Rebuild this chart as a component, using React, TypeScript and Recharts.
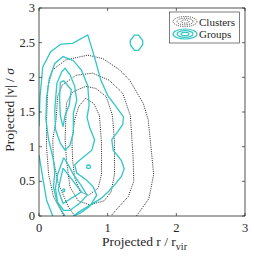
import React from 'react';
import { ComposedChart, Line, XAxis, YAxis, Customized } from 'recharts';

// ---------- data ----------
const xTicks = [0, 1, 2, 3];
const yTicks = [0, 0.5, 1, 1.5, 2, 2.5, 3];
const xLabelMain = 'Projected r / r';
const xLabelSub = 'vir';
const yLabelMain = 'Projected |v| / ';
const yLabelSym = 'σ';
const legendNames = ['Clusters', 'Groups'];

// Groups (cyan, solid) contour paths  [x, y]
const groupsL1a = [[0,1.29],[0.015,1.72],[0.055,2.15],[0.17,2.37],[0.32,2.48],[0.49,2.49],[0.71,2.61],[0.76,2.45],[0.82,2.25],[0.9,1.96],[1.0,1.74],[1.12,1.58],[1.23,1.43],[1.22,1.32],[1.15,1.22],[1.06,1.1],[1.08,0.95],[1.2,0.8],[1.24,0.68],[1.2,0.57],[1.12,0.47],[1.02,0.36],[0.9,0.25],[0.75,0.16],[0.6,0.07],[0.5,0]];
const groupsL1b = [[0,0.88],[0.03,0.7],[0.06,0.52],[0.11,0.23],[0.2,0]];
const groupsL1c = [[1.33,2.47],[1.33,2.53],[1.39,2.61],[1.45,2.61],[1.51,2.53],[1.51,2.47],[1.45,2.39],[1.39,2.39],[1.33,2.47]];
const groupsL2 = [[0.38,0],[0.35,0.04],[0.26,0.21],[0.21,0.42],[0.23,0.62],[0.21,0.81],[0.14,1.1],[0.1,1.4],[0.11,1.7],[0.15,1.98],[0.23,2.2],[0.35,2.3],[0.5,2.24],[0.62,2.1],[0.71,1.88],[0.73,1.6],[0.7,1.42],[0.74,1.27],[0.81,1.1],[0.77,0.95],[0.6,0.81],[0.52,0.74],[0.55,0.62],[0.69,0.52],[0.79,0.42],[0.84,0.3],[0.74,0.14],[0.6,0.04],[0.5,0]];
const groupsL3a = [[0.23,1.53],[0.26,1.91],[0.33,2.08],[0.38,2.13],[0.45,2.04],[0.52,1.87],[0.55,1.67],[0.5,1.48],[0.5,1.2],[0.45,1.02],[0.38,0.95],[0.31,1.05],[0.24,1.25],[0.23,1.53]];
const groupsL3b = [[0.36,0.84],[0.27,0.6],[0.24,0.4],[0.27,0.2],[0.36,0.08],[0.45,0.08],[0.6,0.19],[0.7,0.3],[0.62,0.43],[0.5,0.6],[0.42,0.75],[0.36,0.84]];
const groupsL3c = [[0.69,0.71],[0.7,0.73],[0.72,0.735],[0.74,0.73],[0.75,0.71],[0.74,0.69],[0.72,0.685],[0.7,0.69],[0.69,0.71]];
const groupsL4a = [[0.31,1.93],[0.36,1.95],[0.47,1.82],[0.44,1.6],[0.38,1.45],[0.35,1.29],[0.31,1.45],[0.3,1.7],[0.31,1.93]];
const groupsL4b = [[0.35,0.69],[0.28,0.38],[0.35,0.18],[0.62,0.35],[0.35,0.69]];
const groupsL4c = [[0.345,0.37],[0.35,0.385],[0.36,0.39],[0.37,0.385],[0.375,0.37],[0.37,0.355],[0.36,0.35],[0.35,0.355],[0.345,0.37]];

// Clusters (black, dotted) contour paths  [x, y]
const clustersL1 = [[0.36,0],[0.21,0.28],[0.14,0.6],[0.11,1.0],[0.11,1.39],[0.13,1.87],[0.2,2.11],[0.39,2.25],[0.71,2.32],[0.93,2.27],[1.17,2.11],[1.32,1.96],[1.52,1.62],[1.59,1.39],[1.63,1.0],[1.67,0.6],[1.6,0.25],[1.42,0]];
const clustersL2 = [[0.52,0],[0.43,0.13],[0.28,0.47],[0.21,0.81],[0.2,1.1],[0.25,1.39],[0.27,1.72],[0.34,1.89],[0.54,2.03],[0.78,2.06],[1.02,1.96],[1.22,1.77],[1.33,1.45],[1.37,0.86],[1.38,0.5],[1.3,0.28],[1.08,0.04],[1.05,0]];
const clustersL3 = [[0.38,1.1],[0.39,1.39],[0.4,1.63],[0.49,1.79],[0.68,1.87],[0.83,1.84],[0.98,1.72],[1.07,1.45],[1.1,1.05],[1.1,0.6],[1.05,0.35],[0.95,0.22],[0.74,0.16],[0.57,0.22],[0.45,0.42],[0.4,0.81],[0.38,1.1]];
const clustersL4 = [[0.48,1.1],[0.52,1.39],[0.58,1.58],[0.68,1.7],[0.8,1.62],[0.88,1.45],[0.91,1.05],[0.91,0.6],[0.86,0.4],[0.72,0.3],[0.6,0.35],[0.52,0.55],[0.49,0.8],[0.48,1.1]];

// ---------- styling ----------
const CYAN = '#33C6C6';
const DOT = '#222';
const INK = '#262626';
const FONT = '"Liberation Serif", "Times New Roman", serif';

const toPts = (arr: number[][]) => arr.map(([x, y]) => ({ x, y }));

const groupPaths = [groupsL1a, groupsL1b, groupsL1c, groupsL2, groupsL3a, groupsL3b, groupsL3c, groupsL4a, groupsL4b, groupsL4c];
const clusterPaths = [clustersL1, clustersL2, clustersL3, clustersL4];

const BottomTick = (props: any) => {
  const { x, y, payload } = props;
  return (
    <g>
      <line x1={x} y1={y} x2={x} y2={y - 3} stroke={INK} strokeWidth={0.7} />
      <text x={x} y={y + 16} textAnchor="middle" fontFamily={FONT} fontSize={12.5} fill={INK}>{payload.value}</text>
    </g>
  );
};
const LeftTick = (props: any) => {
  const { x, y, payload } = props;
  return (
    <g>
      <line x1={x} y1={y} x2={x + 3} y2={y} stroke={INK} strokeWidth={0.7} />
      <text x={x - 4} y={y + 4} textAnchor="end" fontFamily={FONT} fontSize={12.5} fill={INK}>{payload.value}</text>
    </g>
  );
};
const TopTick = (props: any) => {
  const { x, y } = props;
  return <line x1={x} y1={y} x2={x} y2={y + 3} stroke={INK} strokeWidth={0.7} />;
};
const RightTick = (props: any) => {
  const { x, y } = props;
  return <line x1={x} y1={y} x2={x - 3} y2={y} stroke={INK} strokeWidth={0.7} />;
};

const Decorations = () => (
  <g>
    <text x={102} y={246} fontFamily={FONT} fontSize={13.5} fill={INK}>
      {xLabelMain}
      <tspan dy={4} fontSize={10}>{xLabelSub}</tspan>
    </text>
    <text transform="translate(14,110) rotate(-90)" textAnchor="middle" fontFamily={FONT} fontSize={13.5} fill={INK}>
      {yLabelMain}
      <tspan fontStyle="italic">{yLabelSym}</tspan>
    </text>
    <g>
      <rect x={169.5} y={12} width={70} height={31} fill="#fff" stroke={INK} strokeWidth={0.6} />
      <ellipse cx={185} cy={21.5} rx={12} ry={5} fill="none" stroke={DOT} strokeWidth={0.9} strokeDasharray="1 1.2" />
      <ellipse cx={185} cy={21.5} rx={8} ry={3.3} fill="none" stroke={DOT} strokeWidth={0.9} strokeDasharray="1 1.2" />
      <ellipse cx={185} cy={21.5} rx={4} ry={1.6} fill="none" stroke={DOT} strokeWidth={0.9} strokeDasharray="1 1.2" />
      <ellipse cx={185} cy={34} rx={12} ry={5} fill="none" stroke={CYAN} strokeWidth={1.2} />
      <ellipse cx={185} cy={34} rx={8} ry={3.3} fill="none" stroke={CYAN} strokeWidth={1.2} />
      <ellipse cx={185} cy={34} rx={4} ry={1.6} fill="none" stroke={CYAN} strokeWidth={1.2} />
      <text x={199} y={25.5} fontFamily={FONT} fontSize={11} fill={INK}>{legendNames[0]}</text>
      <text x={199} y={38} fontFamily={FONT} fontSize={11} fill={INK}>{legendNames[1]}</text>
    </g>
  </g>
);

export default function App() {
  return (
    <div style={{ position: 'absolute', left: 0, top: 0, background: '#fff' }}>
      <ComposedChart width={254} height={257} margin={{ top: 4, right: 5, bottom: 11, left: 9 }}>
        <XAxis xAxisId="b" type="number" dataKey="x" domain={[0, 3]} ticks={xTicks} allowDataOverflow
          height={30} tickSize={0} tickMargin={0} tickLine={false} interval={0}
          axisLine={{ stroke: INK, strokeWidth: 0.8 }} tick={(p: any) => <BottomTick {...p} />} />
        <XAxis xAxisId="t" orientation="top" type="number" dataKey="x" domain={[0, 3]} ticks={xTicks} allowDataOverflow
          height={4} tickSize={0} tickMargin={0} tickLine={false} interval={0}
          axisLine={{ stroke: INK, strokeWidth: 0.8 }} tick={(p: any) => <TopTick {...p} />} />
        <YAxis yAxisId="l" type="number" dataKey="y" domain={[0, 3]} ticks={yTicks} allowDataOverflow
          width={30} tickSize={0} tickMargin={0} tickLine={false} interval={0}
          axisLine={{ stroke: INK, strokeWidth: 0.8 }} tick={(p: any) => <LeftTick {...p} />} />
        <YAxis yAxisId="r" orientation="right" type="number" dataKey="y" domain={[0, 3]} ticks={yTicks} allowDataOverflow
          width={4} tickSize={0} tickMargin={0} tickLine={false} interval={0}
          axisLine={{ stroke: INK, strokeWidth: 0.8 }} tick={(p: any) => <RightTick {...p} />} />
        {clusterPaths.map((c, i) => (
          <Line key={'c' + i} xAxisId="b" yAxisId="l" data={toPts(c)} dataKey="y" type="linear"
            stroke={DOT} strokeWidth={1} strokeDasharray="1 1.2" dot={false} activeDot={false}
            isAnimationActive={false} />
        ))}
        {groupPaths.map((g, i) => (
          <Line key={'g' + i} xAxisId="b" yAxisId="l" data={toPts(g)} dataKey="y" type="linear"
            stroke={CYAN} strokeWidth={1.3} dot={false} activeDot={false}
            isAnimationActive={false} />
        ))}
        <Customized component={Decorations} />
      </ComposedChart>
    </div>
  );
}
